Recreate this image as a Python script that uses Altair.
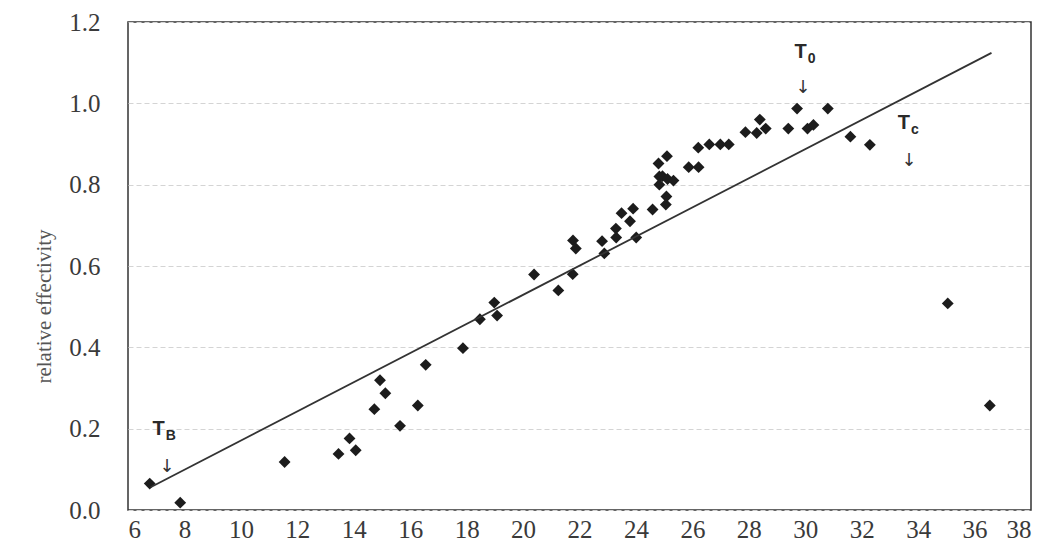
import altair as alt
import pandas as pd

# --- data ---
temp = [6.77, 7.85, 11.55, 13.46, 13.85, 14.07, 14.73, 14.93, 15.12, 15.64,
        16.27, 16.55, 17.87, 18.47, 18.98, 19.08, 20.39, 21.25, 21.76, 21.77,
        21.87, 22.80, 22.88, 23.29, 23.30, 23.49, 23.79, 23.90, 24.01, 24.59,
        24.80, 24.83, 24.83, 24.94, 25.06, 25.08, 25.10, 25.12, 25.33, 25.87,
        26.22, 26.21, 26.60, 26.99, 27.29, 27.88, 28.28, 28.39, 28.60, 29.40,
        29.71, 30.08, 30.29, 30.80, 31.60, 32.29, 35.05, 36.54]
eff = [0.065, 0.018, 0.118, 0.138, 0.176, 0.147, 0.248, 0.319, 0.287, 0.207,
       0.257, 0.357, 0.398, 0.469, 0.510, 0.478, 0.579, 0.540, 0.580, 0.663,
       0.643, 0.661, 0.631, 0.692, 0.670, 0.730, 0.710, 0.741, 0.670, 0.739,
       0.852, 0.820, 0.800, 0.821, 0.751, 0.771, 0.870, 0.814, 0.810, 0.843,
       0.843, 0.891, 0.899, 0.899, 0.899, 0.929, 0.927, 0.960, 0.938, 0.938,
       0.987, 0.938, 0.947, 0.987, 0.918, 0.898, 0.508, 0.257]

line_temp = [6.8, 36.6]
line_eff = [0.056, 1.124]

label_x = [7.30, 30.05, 33.71]
label_y = [0.184, 1.112, 0.936]
label_sub = ["B", "0", "c"]
arrow_x = [7.38, 29.92, 33.68]
arrow_y = [0.106, 1.038, 0.859]

x_ticks = list(range(6, 39, 2))
y_ticks = [0.0, 0.2, 0.4, 0.6, 0.8, 1.0, 1.2]

pts = pd.DataFrame({"t": temp, "e": eff})
reg = pd.DataFrame({"t": line_temp, "e": line_eff})
lab = pd.DataFrame({"t": label_x, "e": label_y, "main": ["T"] * 3, "sub": label_sub})
arr = pd.DataFrame({"t": arrow_x, "e": arrow_y, "a": ["\u2193"] * 3})

serif = "Liberation Serif"
sans = "Liberation Sans"

xscale = alt.Scale(domain=[6, 38], nice=False, zero=False)
yscale = alt.Scale(domain=[0, 1.2], nice=False)

xaxis = alt.Axis(values=x_ticks, format="d", grid=False, domain=False, ticks=False,
                 labelFont=serif, labelFontSize=25, labelColor="#3a3a3a",
                 labelPadding=7, title=None)
yaxis = alt.Axis(values=y_ticks, format=".1f", grid=True, gridColor="#d4d4d4",
                 gridDash=[5, 3], gridWidth=1, domain=False, ticks=False,
                 labelFont=serif, labelFontSize=25, labelColor="#3a3a3a",
                 labelPadding=28, title="relative effectivity",
                 titleFont=serif, titleFontSize=21, titleFontWeight="normal",
                 titleColor="#555555", titleAngle=270, titleX=-84, titleY=284,
                 titleAlign="center", titleBaseline="middle")

base_x = alt.X("t:Q", scale=xscale, axis=xaxis)
base_y = alt.Y("e:Q", scale=yscale, axis=yaxis)

points = alt.Chart(pts).mark_point(shape="diamond", filled=True, size=140,
                                   color="#1c1c1c", opacity=1).encode(x=base_x, y=base_y)

line = alt.Chart(reg).mark_line(color="#333333", strokeWidth=1.8).encode(
    x=alt.X("t:Q", scale=xscale), y=alt.Y("e:Q", scale=yscale))

tmain = alt.Chart(lab).mark_text(font=sans, fontSize=20, fontWeight="bold",
                                 align="right", baseline="alphabetic",
                                 color="#2a2a2a").encode(
    x=alt.X("t:Q", scale=xscale), y=alt.Y("e:Q", scale=yscale), text="main:N")

tsub = alt.Chart(lab).mark_text(font=sans, fontSize=14, fontWeight="bold",
                                align="left", baseline="alphabetic", dx=1, dy=5,
                                color="#2a2a2a").encode(
    x=alt.X("t:Q", scale=xscale), y=alt.Y("e:Q", scale=yscale), text="sub:N")

arrows = alt.Chart(arr).mark_text(font="DejaVu Sans", fontSize=18, fontWeight="normal",
                                  align="center", baseline="middle",
                                  color="#333333").encode(
    x=alt.X("t:Q", scale=xscale), y=alt.Y("e:Q", scale=yscale), text="a:N")

chart = alt.layer(points, line, tmain, tsub, arrows).properties(
    width=903, height=488,
    autosize=alt.AutoSizeParams(type="none"),
    padding={"left": 128, "top": 22, "right": 16, "bottom": 41},
    background="white",
).configure_view(stroke="#333333", strokeWidth=1.5)

chart.save("out.html", embed_options={"renderer": "svg", "actions": False})
